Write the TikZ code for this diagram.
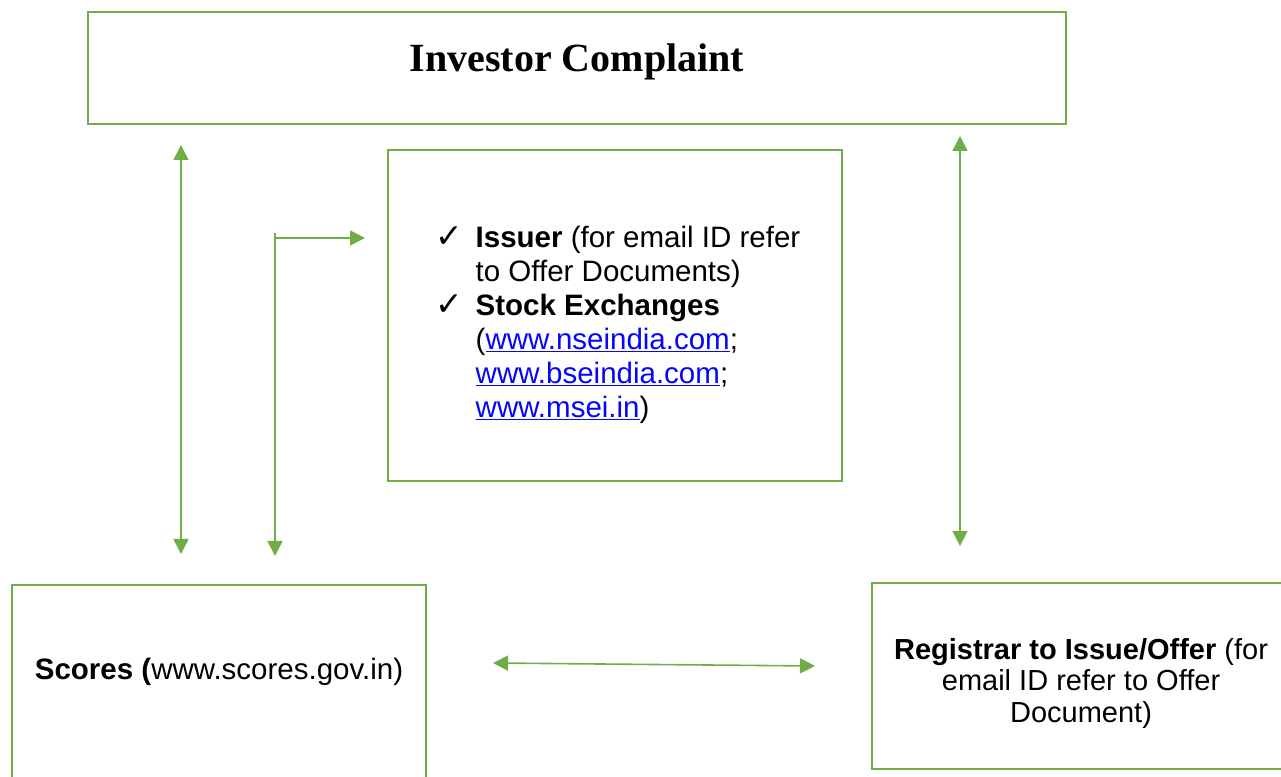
\documentclass[tikz,border=0pt]{standalone}
\usepackage{fontspec}
\setmainfont{Liberation Sans}
\newfontfamily\titlefont{Liberation Serif}
\newfontfamily\symfont{DejaVu Sans}
\usepackage{xcolor}
\usetikzlibrary{arrows.meta}
\usetikzlibrary{calc}
\definecolor{boxgreen}{RGB}{112,173,71}
\definecolor{linkblue}{RGB}{5,5,250}
\newcommand{\weblink}[1]{\textcolor{linkblue}{\underline{#1}}}
\newcommand{\tick}{{\symfont\fontsize{33}{34}\selectfont ✓}}

\begin{document}
\begin{tikzpicture}[x=1pt, y=1pt,
  box/.style={draw=boxgreen, line width=2.8pt, outer sep=0pt},
  link/.style={draw=boxgreen, line width=1.6pt, -{Triangle[length=15pt,width=15pt]}},
  biLink/.style={link, {Triangle[length=15pt,width=15pt]}-{Triangle[length=15pt,width=15pt]}},
  txt/.style={font=\fontsize{29.5}{34}\selectfont}]
 \useasboundingbox (0,0) rectangle (1281,776);

 \node[box, minimum width=978pt, minimum height=112pt, text height=24pt, text depth=16pt,
   font=\titlefont\bfseries\fontsize{40}{48}\selectfont] (ic) at (577,708) {Investor Complaint};

 \node[box, minimum width=454pt, minimum height=331pt] (is) at (615,460.5) {};
 \node[txt, inner sep=0pt] (isl) at ([xshift=3pt, yshift=-10pt]is.center) {%
   \begin{tabular}{@{}p{40pt}@{}l@{}}
   \tick & \textbf{Issuer} (for email ID refer\\
    & to Offer Documents)\\
   \tick & \textbf{Stock Exchanges}\\
    & (\weblink{www.nseindia.com};\\
    & \weblink{www.bseindia.com};\\
    & \weblink{www.msei.in})
   \end{tabular}};

 \node[box, minimum width=414pt, minimum height=220pt, anchor=north west] (sc) at (12,191) {};
 \node[txt] (sct) at ($(sc.north)+(0,-87)$) {\textbf{Scores (}www.scores.gov.in)};

 \node[box, minimum width=418pt, minimum height=186pt, anchor=north west] (rg) at (872,193) {};
 \node[align=center, font=\fontsize{29}{31.5}\selectfont] (rgt) at ($(rg.center)+(0,-7)$)
   {\textbf{Registrar to Issue/Offer} (for\\ email ID refer to Offer\\ Document)};

 % connector ends
 \coordinate (icL) at ($(ic.south west)+(93,-21)$);
 \coordinate (scT) at ($(sc.north west)+(169,31)$);
 \coordinate (fork) at ($(is.north west)+(-113,-88)$);
 \coordinate (isIn) at ($(is.west |- fork)+(-23,0)$);
 \coordinate (scIn) at ($(sc.north west)+(263,29)$);
 \coordinate (icR) at ($(ic.south east)+(-106,-12)$);
 \coordinate (rgT) at ($(rg.north west)+(88,37)$);
 \coordinate (scR) at ($(sc.north east)+(67,-78)$);
 \coordinate (rgL) at ($(rg.north west)+(-57,-83)$);

 \draw[biLink] (icL) -- (scT);
 \draw[link] (fork) -- (isIn);
 \draw[link] ([yshift=5pt]fork) -- (scIn);
 \draw[biLink] (icR) -- (rgT);
 \draw[biLink] (scR) -- (rgL);
\end{tikzpicture}
\end{document}
